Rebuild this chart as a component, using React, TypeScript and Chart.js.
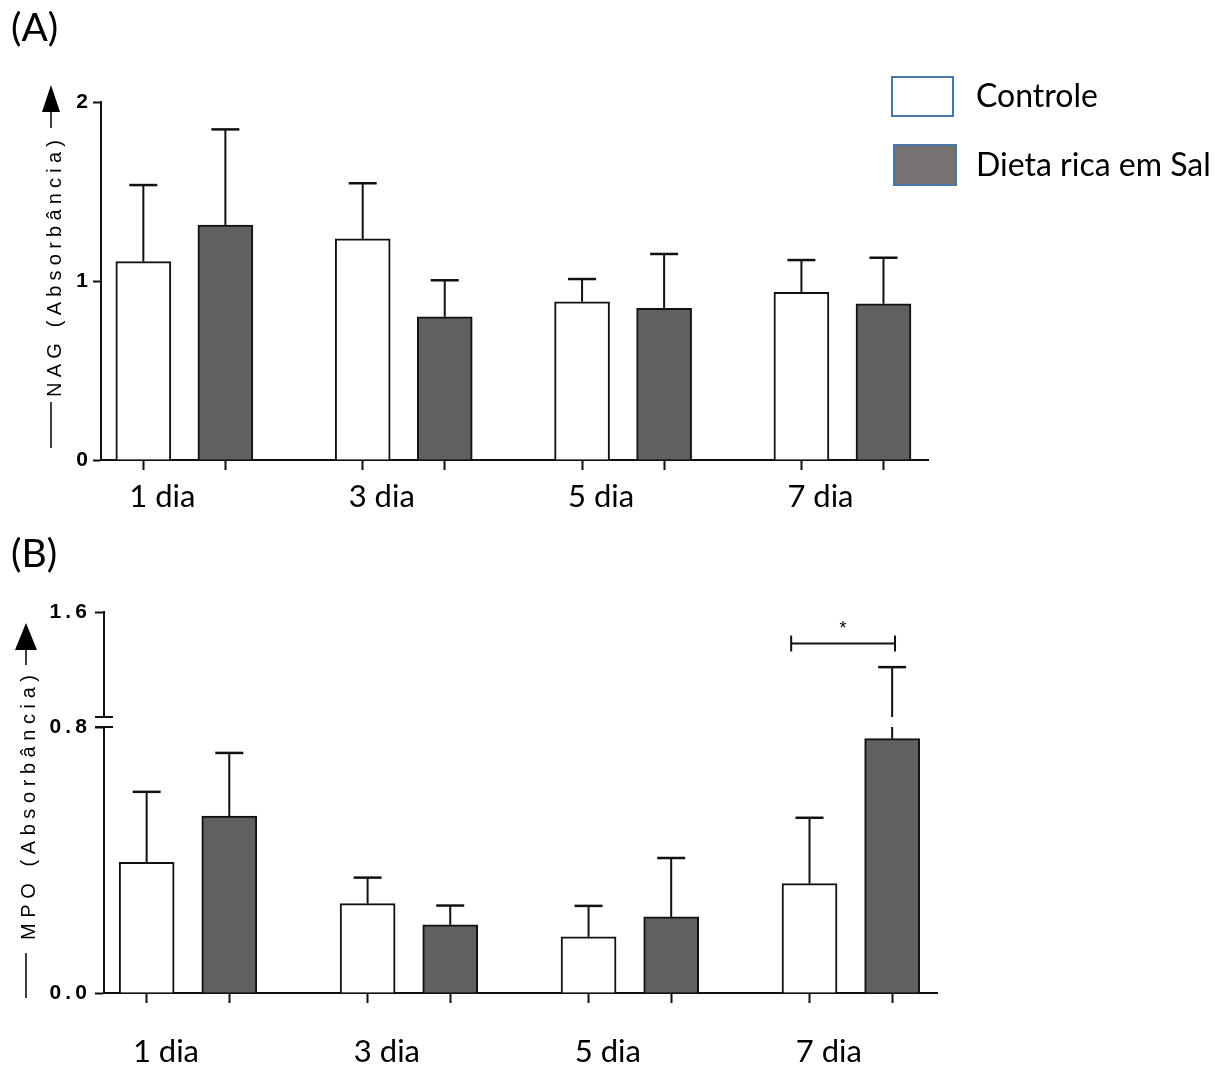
import React, { useEffect, useRef } from 'react';
import { Chart, registerables } from 'chart.js';

Chart.register(...registerables);

// ---------------- data ----------------
const categories = ['1 dia', '3 dia', '5 dia', '7 dia'];
const seriesNames = ['Controle', 'Dieta rica em Sal'];

// (A) NAG (absorbance): mean and upper error
const nagControleMean = [1.108, 1.235, 0.884, 0.937];
const nagControleErr = [0.428, 0.311, 0.127, 0.18];
const nagDietaMean = [1.313, 0.8, 0.847, 0.873];
const nagDietaErr = [0.534, 0.204, 0.304, 0.257];

// (B) MPO (absorbance): mean and upper error
const mpoControleMean = [0.393, 0.269, 0.169, 0.329];
const mpoControleErr = [0.212, 0.078, 0.093, 0.198];
const mpoDietaMean = [0.532, 0.205, 0.229, 0.765];
const mpoDietaErr = [0.19, 0.058, 0.177, 0.415];

const nagTicks = [0, 1, 2];
const mpoLowerTicks = [0, 0.8];
const mpoUpperTicks = [1.6];
const mpoBreak = 0.8;
const mpoTop = 1.6;

// significance bracket (7 dia), in group units / MPO units
const sigFromTo = [2.73, 3.2];
const sigLevel = 1.36;
const sigLabel = '*';

// ---------------- style ----------------
const AXIS_FONT = "'Liberation Sans', Arial, sans-serif";
const TEXT_FONT = "Lato, 'Open Sans', sans-serif";
const INK = '#111111';
const BAR_SHIFT = 0.187;
const X_MIN = -0.38;
const X_MAX = 3.39;

const spaced = (v: number, d: number) => v.toFixed(d).split('').join('\u2009');

function barPoints(means: number[], side: number) {
  return means.map((v, i) => ({ x: i + side * BAR_SHIFT, y: v }));
}
function barCenters() {
  const out: number[] = [];
  categories.forEach((_, i) => out.push(i - BAR_SHIFT, i + BAR_SHIFT));
  return out;
}

function drawYTitle(ctx: CanvasRenderingContext2D, text: string, c: any) {
  ctx.save();
  ctx.fillStyle = '#000';
  ctx.strokeStyle = '#000';
  ctx.lineWidth = 1.5;
  ctx.beginPath();
  ctx.moveTo(c.lineX, c.apexY);
  ctx.lineTo(c.lineX - c.halfW, c.baseY);
  ctx.lineTo(c.lineX + c.halfW, c.baseY);
  ctx.closePath();
  ctx.fill();
  ctx.beginPath();
  ctx.moveTo(c.lineX, c.baseY);
  ctx.lineTo(c.lineX, c.lineTopEnd);
  ctx.moveTo(c.lineX, c.lowTop);
  ctx.lineTo(c.lineX, c.lowBottom);
  ctx.stroke();
  ctx.font = `20px ${AXIS_FONT}`;
  ctx.textBaseline = 'middle';
  ctx.textAlign = 'left';
  const chars = Array.from(text);
  const widths = chars.map((ch) => ctx.measureText(ch).width);
  const natural = widths.reduce((a, b) => a + b, 0);
  const gap = (c.textBottom - c.textTop - natural) / (chars.length - 1);
  ctx.translate(c.cx, c.textBottom);
  ctx.rotate(-Math.PI / 2);
  let pos = 0;
  chars.forEach((ch, i) => {
    ctx.fillText(ch, pos, 0);
    pos += widths[i] + gap;
  });
  ctx.restore();
}

function makeErrorBars(segmentsFor: (chart: any, v0: number, v1: number) => number[][]) {
  return {
    id: 'errorBars',
    afterDatasetsDraw(chart: any) {
      const ctx = chart.ctx as CanvasRenderingContext2D;
      ctx.save();
      ctx.strokeStyle = INK;
      chart.data.datasets.forEach((ds: any, di: number) => {
        const meta = chart.getDatasetMeta(di);
        ds.errors.forEach((err: number, i: number) => {
          const el = meta.data[i];
          const mean = ds.data[i].y;
          const segs = segmentsFor(chart, mean, mean + err);
          ctx.lineWidth = 2;
          ctx.beginPath();
          segs.forEach(([a, b]) => {
            ctx.moveTo(el.x, a);
            ctx.lineTo(el.x, b);
          });
          ctx.stroke();
          const topPx = segs[segs.length - 1][1];
          ctx.lineWidth = 2.5;
          ctx.beginPath();
          ctx.moveTo(el.x - 14, topPx);
          ctx.lineTo(el.x + 14, topPx);
          ctx.stroke();
        });
      });
      ctx.restore();
    },
  };
}

function xScales(tickPad: number, labelHeight: number) {
  return {
    x: {
      type: 'linear',
      position: 'bottom',
      min: X_MIN,
      max: X_MAX,
      offset: false,
      afterBuildTicks: (s: any) => {
        s.ticks = barCenters().map((v) => ({ value: v }));
      },
      afterFit: (s: any) => {
        s.height = 10;
      },
      grid: { offset: false, drawOnChartArea: false, drawTicks: true, tickLength: 10, tickWidth: 2, color: INK },
      border: { display: true, color: INK, width: 2 },
      ticks: { display: false },
    },
    xl: {
      type: 'linear',
      position: 'bottom',
      min: X_MIN,
      max: X_MAX,
      offset: false,
      afterBuildTicks: (s: any) => {
        s.ticks = categories.map((_, i) => ({ value: i }));
      },
      afterFit: (s: any) => {
        s.height = labelHeight;
      },
      grid: { offset: false, display: false, drawTicks: false },
      border: { display: false },
      ticks: {
        callback: (_v: any, i: number) => categories[i],
        font: { family: TEXT_FONT, size: 31 },
        color: '#000',
        padding: tickPad,
        labelOffset: -22,
        autoSkip: false,
        maxRotation: 0,
      },
    },
  };
}

function yTickStyle(len: number) {
  return {
    grid: { drawOnChartArea: false, tickLength: len, tickWidth: 2, color: INK },
    border: { display: true, color: INK, width: 2 },
  };
}

const yTickFont = { family: AXIS_FONT, size: 21, weight: 'bold' };

export default function App() {
  const refA = useRef<HTMLCanvasElement>(null);
  const refB = useRef<HTMLCanvasElement>(null);

  useEffect(() => {
    const barStyle = (i: number) => ({
      backgroundColor: i === 0 ? '#ffffff' : '#606060',
      borderColor: INK,
      borderWidth: 2,
      barThickness: 55,
      grouped: false,
      xAxisID: 'x',
      yAxisID: 'y',
    });

    // ---------- chart A ----------
    const legendPlugin = {
      id: 'sideLegend',
      afterDraw(chart: any) {
        const ctx = chart.ctx as CanvasRenderingContext2D;
        ctx.save();
        const items = [
          { fill: '#ffffff', box: [892, 77, 61, 39], y: 97 },
          { fill: '#767171', box: [894, 145, 62, 40], y: 166 },
        ];
        items.forEach((it, i) => {
          const [bx, by, bw, bh] = it.box;
          ctx.fillStyle = it.fill;
          ctx.fillRect(bx, by, bw, bh);
          ctx.strokeStyle = '#4a76a6';
          ctx.lineWidth = 2;
          ctx.strokeRect(bx, by, bw, bh);
          ctx.fillStyle = '#000';
          ctx.font = `32px ${TEXT_FONT}`;
          ctx.textBaseline = 'middle';
          ctx.textAlign = 'left';
          ctx.fillText(seriesNames[i], 976, it.y);
        });
        ctx.restore();
      },
    };
    const titleA = {
      id: 'yTitleA',
      afterDraw(chart: any) {
        drawYTitle(chart.ctx, 'NAG (Absorbância)', {
          cx: 55, lineX: 51, apexY: 85, baseY: 112, halfW: 9, lineTopEnd: 128,
          textTop: 140, textBottom: 397, lowTop: 402, lowBottom: 448,
        });
      },
    };
    const errA = makeErrorBars((chart, v0, v1) => {
      const y = chart.scales.y;
      return [[y.getPixelForValue(v0), y.getPixelForValue(v1)]];
    });

    const chartA = new Chart(refA.current as HTMLCanvasElement, {
      type: 'bar',
      data: {
        datasets: [
          { label: seriesNames[0], data: barPoints(nagControleMean, -1), errors: nagControleErr, ...barStyle(0) } as any,
          { label: seriesNames[1], data: barPoints(nagDietaMean, 1), errors: nagDietaErr, ...barStyle(1) } as any,
        ],
      },
      options: {
        animation: false,
        responsive: false,
        maintainAspectRatio: false,
        layout: { padding: { left: 0, right: 300, top: 102, bottom: 0 } },
        plugins: { legend: { display: false }, tooltip: { enabled: false } },
        scales: {
          ...xScales(8, 60),
          y: {
            type: 'linear',
            position: 'left',
            min: 0,
            max: 2,
            afterBuildTicks: (s: any) => {
              s.ticks = nagTicks.map((v) => ({ value: v }));
            },
            afterFit: (s: any) => {
              s.width = 101;
            },
            ...yTickStyle(8),
            ticks: {
              font: yTickFont,
              color: '#000',
              padding: 5,
              callback: (v: any) => String(v),
            },
          },
        } as any,
      },
      plugins: [errA, legendPlugin, titleA],
    });

    // ---------- chart B ----------
    const segB = (chart: any, v0: number, v1: number) => {
      const lo = chart.scales.y;
      const hi = chart.scales.yTop;
      if (v1 <= mpoBreak) return [[lo.getPixelForValue(v0), lo.getPixelForValue(v1)]];
      if (v0 >= mpoBreak) return [[hi.getPixelForValue(v0), hi.getPixelForValue(v1)]];
      return [
        [lo.getPixelForValue(v0), lo.getPixelForValue(mpoBreak)],
        [hi.getPixelForValue(mpoBreak), hi.getPixelForValue(v1)],
      ];
    };
    const errB = makeErrorBars(segB);
    const decoB = {
      id: 'decoB',
      afterDraw(chart: any) {
        const ctx = chart.ctx as CanvasRenderingContext2D;
        const ax = chart.chartArea.left;
        const lo = chart.scales.y;
        const hi = chart.scales.yTop;
        const xs = chart.scales.x;
        ctx.save();
        ctx.strokeStyle = INK;
        ctx.lineWidth = 2;
        [lo.getPixelForValue(mpoBreak), hi.getPixelForValue(mpoBreak)].forEach((py) => {
          ctx.beginPath();
          ctx.moveTo(ax - 9, py);
          ctx.lineTo(ax + 9, py);
          ctx.stroke();
        });
        const x1 = xs.getPixelForValue(sigFromTo[0]);
        const x2 = xs.getPixelForValue(sigFromTo[1]);
        const sy = hi.getPixelForValue(sigLevel);
        ctx.beginPath();
        ctx.moveTo(x1, sy);
        ctx.lineTo(x2, sy);
        ctx.moveTo(x1, sy - 8);
        ctx.lineTo(x1, sy + 8);
        ctx.moveTo(x2, sy - 8);
        ctx.lineTo(x2, sy + 8);
        ctx.stroke();
        ctx.fillStyle = '#000';
        ctx.font = `18px ${AXIS_FONT}`;
        ctx.textAlign = 'center';
        ctx.textBaseline = 'middle';
        ctx.fillText(sigLabel, (x1 + x2) / 2, sy - 14);
        ctx.restore();
        drawYTitle(ctx, 'MPO (Absorbância)', {
          cx: 29, lineX: 26, apexY: 93, baseY: 120, halfW: 11, lineTopEnd: 135,
          textTop: 145, textBottom: 410, lowTop: 423, lowBottom: 468,
        });
      },
    };

    const yCommon = (w: number) => ({
      type: 'linear',
      position: 'left',
      stack: 'mpo',
      afterFit: (s: any) => {
        s.width = w;
      },
    });
    const yTicksB = {
      font: yTickFont,
      color: '#000',
      padding: 8,
      callback: (v: any) => spaced(Number(v), 1),
    };

    const chartB = new Chart(refB.current as HTMLCanvasElement, {
      type: 'bar',
      data: {
        datasets: [
          { label: seriesNames[0], data: barPoints(mpoControleMean, -1), errors: mpoControleErr, ...barStyle(0) } as any,
          { label: seriesNames[1], data: barPoints(mpoDietaMean, 1), errors: mpoDietaErr, ...barStyle(1) } as any,
        ],
      },
      options: {
        animation: false,
        responsive: false,
        maintainAspectRatio: false,
        layout: { padding: { left: 0, right: 291, top: 82, bottom: 0 } },
        plugins: { legend: { display: false }, tooltip: { enabled: false } },
        scales: {
          y: {
            ...yCommon(104),
            stackWeight: 266,
            min: 0,
            max: mpoBreak,
            afterBuildTicks: (s: any) => {
              s.ticks = mpoLowerTicks.map((v) => ({ value: v }));
            },
            ...yTickStyle(9),
            ticks: yTicksB,
          },
          yGap: {
            ...yCommon(104),
            stackWeight: 10,
            min: 0,
            max: 1,
            grid: { display: false, drawTicks: false },
            border: { display: false },
            ticks: { display: false },
          },
          yTop: {
            ...yCommon(104),
            stackWeight: 105,
            min: mpoBreak,
            max: mpoTop,
            afterBuildTicks: (s: any) => {
              s.ticks = mpoUpperTicks.map((v) => ({ value: v }));
            },
            ...yTickStyle(9),
            ticks: yTicksB,
          },
          ...xScales(30, 65),
        } as any,
      },
      plugins: [errB, decoB],
    });

    return () => {
      chartA.destroy();
      chartB.destroy();
    };
  }, []);

  const panelLabel = (top: number): React.CSSProperties => ({
    position: 'absolute',
    left: 11,
    top,
    fontFamily: TEXT_FONT,
    fontSize: 39,
    lineHeight: 1,
    color: '#000',
  });

  return (
    <div style={{ position: 'absolute', left: 0, top: 0, width: 1228, height: 1068, background: '#fff', overflow: 'hidden' }}>
      <canvas ref={refA} width={1228} height={530} style={{ position: 'absolute', left: 0, top: 0, display: 'block' }} />
      <canvas ref={refB} width={1228} height={538} style={{ position: 'absolute', left: 0, top: 530, display: 'block' }} />
      <div style={panelLabel(7)}>(A)</div>
      <div style={panelLabel(533)}>(B)</div>
    </div>
  );
}
